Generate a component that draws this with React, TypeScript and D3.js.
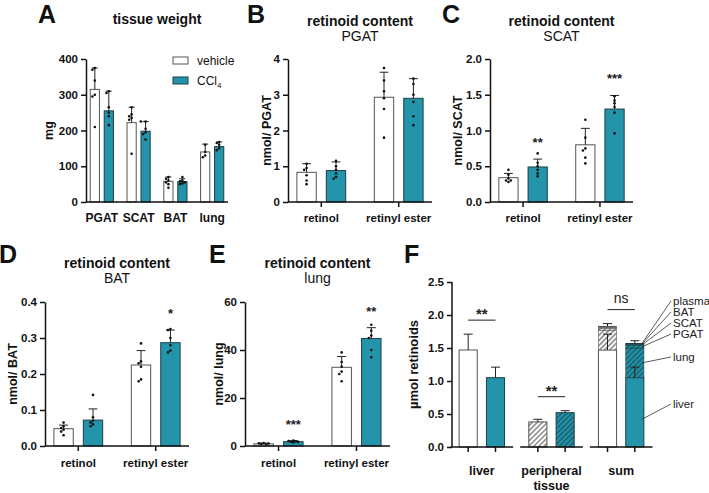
import * as d3 from 'd3'
import { useEffect, useRef } from 'react'

const width = 709
const height = 493
const teal = '#2494aa'
const tealDark = '#174c57'
const font = "'Liberation Sans', Arial, sans-serif"

// A: tissue weight (mg)
const tissues = ['PGAT', 'SCAT', 'BAT', 'lung']
const weightVehMean = [315, 222, 58, 140]
const weightVehSd = [60, 43, 12, 22]
const weightCclMean = [255, 198, 57, 155]
const weightCclSd = [55, 27, 8, 13]
const weightVehPts = [
  [375, 370, 340, 300, 295, 210],
  [265, 245, 240, 235, 230, 135],
  [70, 65, 60, 55, 50, 40],
  [160, 140, 130, 125],
]
const weightCclPts = [
  [310, 305, 265, 250, 240, 215],
  [225, 225, 205, 195, 190, 175],
  [70, 60, 58, 55, 52, 50],
  [168, 165, 160, 150, 145],
]

const retinoids = ['retinol', 'retinyl ester']

// B: retinoid content PGAT (nmol)
const pgatVehMean = [0.83, 2.93]
const pgatVehSd = [0.24, 0.7]
const pgatCclMean = [0.88, 2.9]
const pgatCclSd = [0.24, 0.55]
const pgatVehPts = [
  [1.07, 0.95, 0.9, 0.75, 0.6, 0.5],
  [3.75, 3.4, 3.1, 2.9, 2.6, 1.8],
]
const pgatCclPts = [
  [1.15, 1.0, 0.9, 0.8, 0.7, 0.65],
  [3.45, 3.3, 3.0, 2.8, 2.4, 2.15],
]

// C: retinoid content SCAT (nmol)
const scatVehMean = [0.34, 0.8]
const scatVehSd = [0.06, 0.23]
const scatCclMean = [0.49, 1.3]
const scatCclSd = [0.11, 0.19]
const scatVehPts = [
  [0.45, 0.38, 0.33, 0.3, 0.3, 0.28],
  [1.15, 0.9, 0.75, 0.72, 0.62, 0.54],
]
const scatCclPts = [
  [0.68, 0.55, 0.5, 0.45, 0.4, 0.36],
  [1.48, 1.42, 1.38, 1.33, 1.25, 0.96],
]
const scatStars = ['**', '***']

// D: retinoid content BAT (nmol)
const batVehMean = [0.048, 0.225]
const batVehSd = [0.01, 0.04]
const batCclMean = [0.072, 0.287]
const batCclSd = [0.031, 0.035]
const batVehPts = [
  [0.065, 0.055, 0.05, 0.045, 0.04, 0.03],
  [0.285, 0.235, 0.23, 0.22, 0.185, 0.18],
]
const batCclPts = [
  [0.142, 0.08, 0.07, 0.065, 0.06, 0.055],
  [0.325, 0.322, 0.3, 0.28, 0.265, 0.26],
]
const batStars = ['', '*']

// E: retinoid content lung (nmol)
const lungVehMean = [0.9, 32.8]
const lungVehSd = [0.3, 4.5]
const lungCclMean = [1.8, 44.8]
const lungCclSd = [0.4, 4.5]
const lungVehPts = [
  [1.2, 1.1, 1.0, 0.8, 0.6],
  [39, 35, 33, 31, 30, 27],
]
const lungCclPts = [
  [2.3, 2.1, 2.0, 1.8, 1.7, 1.5],
  [50.5, 48, 46, 45, 40, 37],
]
const lungStars = ['***', '**']

// F: total retinoids (µmol)
const totalGroups = ['liver', 'peripheral tissue', 'sum']
const liverMean = [1.47, 1.05]
const liverSd = [0.24, 0.16]
const peripheralMean = [0.38, 0.52]
const peripheralSd = [0.04, 0.03]
const sumSd = [0.04, 0.04]
const stackParts = ['lung', 'PGAT', 'SCAT', 'BAT', 'plasma']
const stackVeh = [0.3, 0.03, 0.015, 0.005, 0.01]
const stackCcl = [0.45, 0.035, 0.02, 0.008, 0.007]
const totalStars = ['**', '**', 'ns']

type Panel = {
  letter: string
  letterX: number
  letterY: number
  title: string
  subtitle?: string
  titleY: number
  x0: number
  x1: number
  yTop: number
  yBottom: number
  max: number
  tickStep: number
  fmt: string
  groups: string[]
  veh: number[]
  vehSd: number[]
  ccl: number[]
  cclSd: number[]
  vehPts: number[][]
  cclPts: number[][]
  stars?: string[]
  yLabel: string
  yLabelX: number
  xTicks: boolean
  labelY: number
}

const panels: Panel[] = [
  {
    letter: 'A', letterX: 38, letterY: 23, title: 'tissue weight', titleY: 24,
    x0: 86, x1: 228, yTop: 59, yBottom: 202, max: 400, tickStep: 100, fmt: 'd',
    groups: tissues, veh: weightVehMean, vehSd: weightVehSd, ccl: weightCclMean, cclSd: weightCclSd,
    vehPts: weightVehPts, cclPts: weightCclPts, yLabel: 'mg', yLabelX: 53, xTicks: false, labelY: 222,
  },
  {
    letter: 'B', letterX: 247, letterY: 23, title: 'retinoid content', subtitle: 'PGAT', titleY: 26,
    x0: 288, x1: 432, yTop: 59, yBottom: 202, max: 4, tickStep: 1, fmt: 'd',
    groups: retinoids, veh: pgatVehMean, vehSd: pgatVehSd, ccl: pgatCclMean, cclSd: pgatCclSd,
    vehPts: pgatVehPts, cclPts: pgatCclPts, yLabel: 'nmol/ PGAT', yLabelX: 271, xTicks: true, labelY: 222,
  },
  {
    letter: 'C', letterX: 442, letterY: 23, title: 'retinoid content', subtitle: 'SCAT', titleY: 26,
    x0: 490, x1: 633, yTop: 59, yBottom: 202, max: 2, tickStep: 0.5, fmt: '.1f',
    groups: retinoids, veh: scatVehMean, vehSd: scatVehSd, ccl: scatCclMean, cclSd: scatCclSd,
    vehPts: scatVehPts, cclPts: scatCclPts, stars: scatStars, yLabel: 'nmol/ SCAT', yLabelX: 462, xTicks: true, labelY: 222,
  },
  {
    letter: 'D', letterX: -1, letterY: 263, title: 'retinoid content', subtitle: 'BAT', titleY: 268,
    x0: 45, x1: 189, yTop: 302, yBottom: 446, max: 0.4, tickStep: 0.1, fmt: '.1f',
    groups: retinoids, veh: batVehMean, vehSd: batVehSd, ccl: batCclMean, cclSd: batCclSd,
    vehPts: batVehPts, cclPts: batCclPts, stars: batStars, yLabel: 'nmol/ BAT', yLabelX: 17, xTicks: true, labelY: 467,
  },
  {
    letter: 'E', letterX: 209, letterY: 263, title: 'retinoid content', subtitle: 'lung', titleY: 268,
    x0: 245, x1: 390, yTop: 302, yBottom: 446, max: 60, tickStep: 20, fmt: 'd',
    groups: retinoids, veh: lungVehMean, vehSd: lungVehSd, ccl: lungCclMean, cclSd: lungCclSd,
    vehPts: lungVehPts, cclPts: lungCclPts, stars: lungStars, yLabel: 'nmol/ lung', yLabelX: 222.5, xTicks: true, labelY: 467,
  },
]

type Sel = d3.Selection<SVGGElement, unknown, null, undefined>

function yAxis(g: Sel, x: number, y: d3.ScaleLinear<number, number>, step: number, max: number, fmt: string) {
  g.append('g')
    .attr('transform', `translate(${x},0)`)
    .call(
      d3
        .axisLeft(y)
        .tickValues(d3.range(0, max + step / 2, step))
        .tickFormat(d3.format(fmt) as any)
        .tickSize(5)
        .tickSizeOuter(0)
    )
    .call(a => a.selectAll('path, line').attr('stroke', '#111').attr('stroke-width', 1.5))
    .call(a =>
      a
        .selectAll('text')
        .attr('fill', '#111')
        .attr('font-family', font)
        .attr('font-weight', 'bold')
        .attr('font-size', 11.5)
        .attr('x', -8)
    )
}

// small beeswarm so overlapping dots spread sideways
function swarm(vals: number[], y: (v: number) => number) {
  const placed: { dx: number; y: number }[] = []
  const offsets = [0, -2.4, 2.4, -4.8, 4.8]
  for (const v of vals) {
    const py = y(v)
    const dx = offsets.find(o => placed.every(p => Math.hypot(p.dx - o, p.y - py) >= 2.5)) ?? 0
    placed.push({ dx, y: py })
  }
  return placed
}

function errorBar(g: Sel, cx: number, yMean: number, yTop: number, cap: number) {
  g.append('line').attr('x1', cx).attr('x2', cx).attr('y1', yMean).attr('y2', yTop).attr('stroke', '#222').attr('stroke-width', 1)
  g.append('line').attr('x1', cx - cap).attr('x2', cx + cap).attr('y1', yTop).attr('y2', yTop).attr('stroke', '#222').attr('stroke-width', 1)
}

function drawPanel(svg: Sel, p: Panel) {
  const g = svg.append('g')
  const y = d3.scaleLinear([0, p.max], [p.yBottom, p.yTop])
  const x = d3.scalePoint(p.groups, [p.x0, p.x1]).padding(0.43)
  const step = x.step()
  const bw = step * 0.25
  const off = step * 0.19
  const cap = Math.max(3, bw * 0.23)

  g.append('text').attr('x', p.letterX).attr('y', p.letterY).attr('font-size', 25).attr('font-weight', 'bold').text(p.letter)
  const cx = (p.x0 + p.x1) / 2
  g.append('text').attr('x', cx).attr('y', p.titleY).attr('text-anchor', 'middle').attr('font-size', 14).attr('font-weight', 'bold').text(p.title)
  if (p.subtitle)
    g.append('text').attr('x', cx).attr('y', p.titleY + 15).attr('text-anchor', 'middle').attr('font-size', 14).text(p.subtitle)

  p.groups.forEach((grp, i) => {
    const c = x(grp)!
    const series = [
      { mean: p.veh[i], sd: p.vehSd[i], pts: p.vehPts[i], fill: 'white', stroke: '#555', cx: c - off },
      { mean: p.ccl[i], sd: p.cclSd[i], pts: p.cclPts[i], fill: teal, stroke: '#1d3f47', cx: c + off },
    ]
    series.forEach((s, j) => {
      g.append('rect')
        .attr('x', s.cx - bw / 2)
        .attr('y', y(s.mean))
        .attr('width', bw)
        .attr('height', y(0) - y(s.mean))
        .attr('fill', s.fill)
        .attr('stroke', s.stroke)
        .attr('stroke-width', 1)
      errorBar(g, s.cx, y(s.mean), y(s.mean + s.sd), cap)
      swarm(s.pts, y).forEach(pt =>
        g.append('circle').attr('cx', s.cx + pt.dx).attr('cy', pt.y).attr('r', 1.3).attr('fill', '#111')
      )
      if (j === 1 && p.stars && p.stars[i])
        g.append('text')
          .attr('x', s.cx)
          .attr('y', y(s.mean + s.sd) - 12)
          .attr('text-anchor', 'middle')
          .attr('font-size', 13)
          .attr('font-weight', 'bold')
          .attr('fill', '#222')
          .text(p.stars[i])
    })
    if (p.xTicks)
      g.append('line').attr('x1', c).attr('x2', c).attr('y1', p.yBottom).attr('y2', p.yBottom + 5).attr('stroke', '#111').attr('stroke-width', 1.5)
    g.append('text')
      .attr('x', c)
      .attr('y', p.labelY)
      .attr('text-anchor', 'middle')
      .attr('font-size', p.xTicks ? 11.5 : 12)
      .attr('font-weight', 'bold')
      .text(grp)
  })

  g.append('line').attr('x1', p.x0).attr('x2', p.x1).attr('y1', p.yBottom).attr('y2', p.yBottom).attr('stroke', '#111').attr('stroke-width', 1.5)
  yAxis(g, p.x0, y, p.tickStep, p.max, p.fmt)

  g.append('text')
    .attr('transform', `translate(${p.yLabelX},${(p.yTop + p.yBottom) / 2}) rotate(-90)`)
    .attr('text-anchor', 'middle')
    .attr('font-size', 12.5)
    .attr('font-weight', 'bold')
    .text(p.yLabel)
}

function drawLegend(svg: Sel) {
  const g = svg.append('g')
  g.append('rect').attr('x', 173).attr('y', 57).attr('width', 15).attr('height', 7).attr('fill', 'white').attr('stroke', '#555')
  g.append('text').attr('x', 197).attr('y', 65).attr('font-size', 12).text('vehicle')
  g.append('rect').attr('x', 173).attr('y', 77).attr('width', 15).attr('height', 7).attr('fill', teal).attr('stroke', '#1d3f47')
  const t = g.append('text').attr('x', 197).attr('y', 85).attr('font-size', 12)
  t.append('tspan').text('CCl')
  t.append('tspan').attr('font-size', 8).attr('dy', 3).text('4')
}

function drawTotals(svg: Sel) {
  const g = svg.append('g')
  const yTop = 282
  const yBottom = 447
  const y = d3.scaleLinear([0, 2.5], [yBottom, yTop])
  const x = d3.scaleBand(totalGroups, [447, 656])
  const step = x.step()
  const bw = step * 0.26
  const off = step * 0.196
  const cap = 4.5

  g.append('text').attr('x', 404).attr('y', 263).attr('font-size', 25).attr('font-weight', 'bold').text('F')

  const bar = (cx: number, y0: number, y1: number, fill: string, stroke: string) =>
    g.append('rect')
      .attr('x', cx - bw / 2)
      .attr('y', y(y1))
      .attr('width', bw)
      .attr('height', y(y0) - y(y1))
      .attr('fill', fill)
      .attr('stroke', stroke)
      .attr('stroke-width', 1)

  const fills = ['white', teal]
  const hatches = ['url(#hatchW)', 'url(#hatchT)']
  const strokes = ['#555', '#1d3f47']

  totalGroups.forEach((grp, gi) => {
    const c = x(grp)! + step / 2
    const cs = [c - off, c + off]
    for (let j = 0; j < 2; j++) {
      if (gi === 0) {
        bar(cs[j], 0, liverMean[j], fills[j], strokes[j])
        errorBar(g, cs[j], y(liverMean[j]), y(liverMean[j] + liverSd[j]), cap)
      } else if (gi === 1) {
        bar(cs[j], 0, peripheralMean[j], hatches[j], strokes[j])
        errorBar(g, cs[j], y(peripheralMean[j]), y(peripheralMean[j] + peripheralSd[j]), cap)
      } else {
        bar(cs[j], 0, liverMean[j], fills[j], strokes[j])
        const parts = j === 0 ? stackVeh : stackCcl
        let acc = liverMean[j]
        parts.forEach(v => {
          bar(cs[j], acc, acc + v, hatches[j], strokes[j]).attr('stroke-width', 0.6)
          acc += v
        })
        errorBar(g, cs[j], y(liverMean[j]), y(liverMean[j] + liverSd[j]), cap)
        errorBar(g, cs[j], y(acc), y(acc + sumSd[j]), cap)
      }
      g.append('line').attr('x1', cs[j]).attr('x2', cs[j]).attr('y1', yBottom).attr('y2', yBottom + 5).attr('stroke', '#111').attr('stroke-width', 1.5)
    }

    // significance bracket
    const tops =
      gi === 0
        ? liverMean.map((m, j) => m + liverSd[j])
        : gi === 1
          ? peripheralMean.map((m, j) => m + peripheralSd[j])
          : [0, 1].map(j => liverMean[j] + d3.sum(j === 0 ? stackVeh : stackCcl) + sumSd[j])
    const ly = y(d3.max(tops)!) - 14
    g.append('line').attr('x1', cs[0]).attr('x2', cs[1]).attr('y1', ly).attr('y2', ly).attr('stroke', '#222').attr('stroke-width', 1)
    const star = totalStars[gi] !== 'ns'
    g.append('text')
      .attr('x', c)
      .attr('y', star ? ly - 1 : ly - 7)
      .attr('text-anchor', 'middle')
      .attr('font-size', star ? 15 : 14)
      .attr('font-weight', star ? 'bold' : 'normal')
      .attr('fill', '#222')
      .text(totalStars[gi])

    g.append('line')
      .attr('x1', c - step * 0.45)
      .attr('x2', c + step * 0.45)
      .attr('y1', yBottom)
      .attr('y2', yBottom)
      .attr('stroke', '#111')
      .attr('stroke-width', 1.5)

    const words = grp.split(' ')
    words.forEach((w, k) =>
      g.append('text')
        .attr('x', c)
        .attr('y', 475 + k * 15)
        .attr('text-anchor', 'middle')
        .attr('font-size', 12.5)
        .attr('font-weight', 'bold')
        .text(w)
    )
  })

  g.append('line').attr('x1', 452).attr('x2', 452).attr('y1', yTop).attr('y2', yBottom).attr('stroke', '#111').attr('stroke-width', 1.5)
  yAxis(g, 452, y, 0.5, 2.5, '.1f')
  g.select('g .domain').remove()

  g.append('text')
    .attr('transform', `translate(418,${(yTop + yBottom) / 2}) rotate(-90)`)
    .attr('text-anchor', 'middle')
    .attr('font-size', 13)
    .attr('font-weight', 'bold')
    .text('µmol retinoids')

  // component labels for the CCl4 sum bar
  const sumX = x('sum')! + step / 2 + off + bw / 2 - 2
  const labelRows: { name: string; target: number }[] = []
  let acc = liverMean[1]
  stackParts.forEach((name, i) => {
    labelRows.push({ name, target: acc + stackCcl[i] / 2 })
    acc += stackCcl[i]
  })
  const labelBase: Record<string, number> = { plasma: 305, BAT: 316, SCAT: 327, PGAT: 338, lung: 361, liver: 408 }
  const rows = [...labelRows, { name: 'liver', target: liverMean[1] * 0.4 }]
  rows.forEach(r => {
    const by = labelBase[r.name]
    g.append('line')
      .attr('x1', 671)
      .attr('y1', by - 4)
      .attr('x2', sumX)
      .attr('y2', y(r.target))
      .attr('stroke', '#333')
      .attr('stroke-width', 0.8)
    g.append('text').attr('x', 673).attr('y', by).attr('font-size', 11.5).attr('fill', '#222').text(r.name)
  })
}

export default function App() {
  const ref = useRef<SVGSVGElement>(null)

  useEffect(() => {
    document.body.style.margin = '0'
    const root = d3.select(ref.current)
    root.selectAll('*').remove()

    const defs = root.append('defs')
    const hatch = (id: string, bg: string, fg: string) => {
      const p = defs
        .append('pattern')
        .attr('id', id)
        .attr('patternUnits', 'userSpaceOnUse')
        .attr('width', 3.6)
        .attr('height', 3.6)
        .attr('patternTransform', 'rotate(45)')
      p.append('rect').attr('width', 3.6).attr('height', 3.6).attr('fill', bg)
      p.append('line').attr('x1', 1.8).attr('x2', 1.8).attr('y1', 0).attr('y2', 3.6).attr('stroke', fg).attr('stroke-width', 1.1)
    }
    hatch('hatchW', 'white', '#555')
    hatch('hatchT', teal, tealDark)

    const svg = root.append('g').attr('font-family', font).attr('fill', '#111') as unknown as Sel
    panels.forEach(p => drawPanel(svg, p))
    drawLegend(svg)
    drawTotals(svg)
  }, [])

  return <svg ref={ref} width={width} height={height} viewBox={`0 0 ${width} ${height}`} style={{ display: 'block', background: 'white' }} />
}
